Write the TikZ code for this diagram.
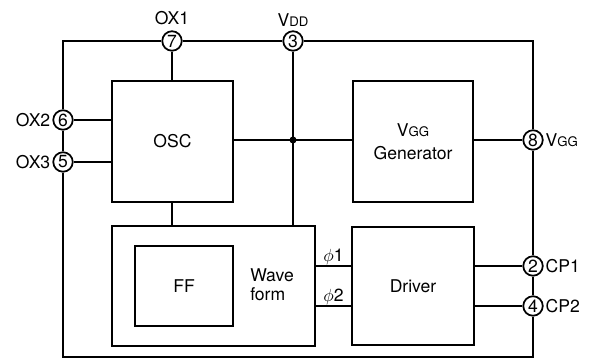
\documentclass[tikz,border=0pt]{standalone}
\usepackage{fontspec}
\setmainfont{TeX Gyre Heros}
\usetikzlibrary{positioning}
\tikzset{
  wire/.style     = {line width=1pt},
  blockbox/.style = {draw, line width=1.6pt, rectangle, inner sep=0pt,
                     align=center, font=\fontsize{10}{12}\selectfont},
  pin/.style      = {circle, draw, line width=1pt, fill=white,
                     inner sep=0pt, minimum size=0.39cm,
                     font=\fontsize{10}{10}\selectfont},
  pinlabel/.style = {font=\fontsize{10}{11}\selectfont, inner sep=1pt},
  junction/.style = {circle, fill=black, inner sep=0pt, minimum size=4pt},
}
\newcommand{\lowcap}[1]{{\fontsize{7.5}{8}\selectfont #1}}

\begin{document}
\begin{tikzpicture}
  \useasboundingbox (0,0) rectangle (11.9,7.2);

  % blocks
  \node[blockbox, minimum width=2.42cm, minimum height=2.42cm] (osc) at (3.45,4.37) {OSC};
  \node[blockbox, minimum width=2.40cm, minimum height=2.42cm] (vgg) at (8.26,4.37)
       {V\lowcap{GG}\\[1pt]Generator};
  \node[blockbox, minimum width=4.06cm, minimum height=2.40cm] (wave) at (4.27,1.48) {};
  \node[blockbox, minimum width=1.96cm, minimum height=1.60cm] (ff) at (3.68,1.48) {FF};
  \node[font=\fontsize{10}{11}\selectfont, align=left] (wavetxt) at (5.44,1.50) {Wave\\form};
  \node[blockbox, minimum width=2.44cm, minimum height=2.36cm] (drv) at (8.26,1.48) {Driver};

  % pins
  \node[pin] (p7) at (3.44,6.38) {7};
  \node[pin] (p3) at (5.86,6.38) {3};
  \node[pin] (p6) at (1.26,4.80) {6};
  \node[pin] (p5) at (1.26,3.96) {5};
  \node[pin] (p8) at (10.66,4.40) {8};
  \node[pin] (p2) at (10.66,1.88) {2};
  \node[pin] (p4) at (10.66,1.08) {4};
  \coordinate (bl) at (1.26,0.06);
  \coordinate (br) at (10.66,0.06);

  \node[pinlabel, above=2pt of p7] (l7) {OX1};
  \node[pinlabel, above=1pt of p3] (l3) {V\lowcap{DD}};
  \node[pinlabel, left=0pt of p6] (l6) {OX2};
  \node[pinlabel, left=0pt of p5] (l5) {OX3};
  \node[pinlabel, right=0pt of p8] (l8) {V\lowcap{GG}};
  \node[pinlabel, right=0pt of p2] (l2) {CP1};
  \node[pinlabel, right=0pt of p4] (l4) {CP2};

  % package outline
  \draw[wire] (p7) -| (p6);
  \draw[wire] (p6) -- (p5);
  \draw[wire] (p5) -- (bl) -- (br) -- (p4);
  \draw[wire] (p4) -- (p2);
  \draw[wire] (p2) -- (p8);
  \draw[wire] (p8) |- (p3);
  \draw[wire] (p3) -- (p7);

  % internal wiring
  \draw[wire] (p7) -- (p7 |- osc.north);
  \draw[wire] (p6) -- (p6 -| osc.west);
  \draw[wire] (p5) -- (p5 -| osc.west);
  \node[junction] (jdd) at (p3 |- p8) {};
  \draw[wire] (p3) -- (p3 |- wave.north);
  \draw[wire] (jdd -| osc.east) -- (jdd -| vgg.west);
  \draw[wire] (p8) -- (p8 -| vgg.east);
  \draw[wire] (p7 |- osc.south) -- (p7 |- wave.north);

  % phases
  \draw[wire] (p2 -| wave.east) -- (p2 -| drv.west)
       node[midway, above=-1pt, pinlabel] (ph1) {$\phi$1};
  \draw[wire] (p4 -| wave.east) -- (p4 -| drv.west)
       node[midway, above=-1pt, pinlabel] (ph2) {$\phi$2};
  \draw[wire] (p2) -- (p2 -| drv.east);
  \draw[wire] (p4) -- (p4 -| drv.east);
\end{tikzpicture}
\end{document}
